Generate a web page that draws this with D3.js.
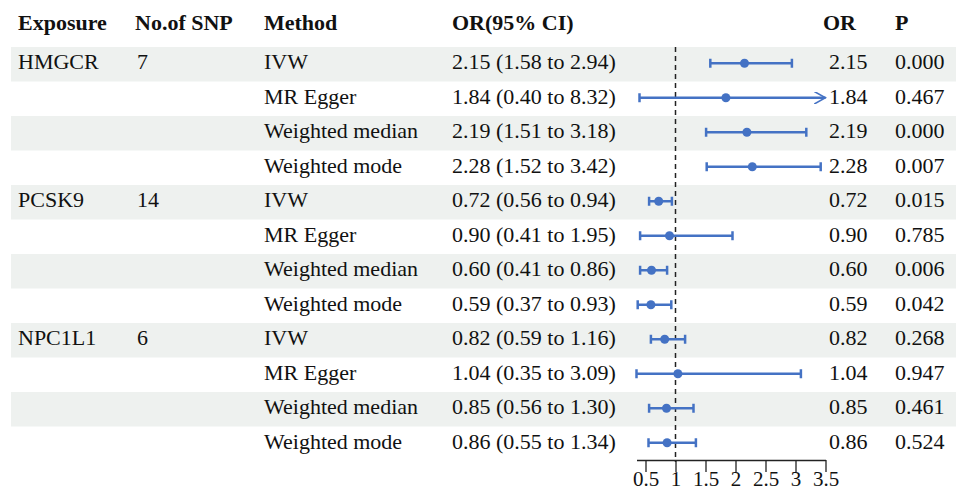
<!DOCTYPE html>
<html>
<head>
<meta charset="utf-8">
<script src="https://cdn.jsdelivr.net/npm/d3@7"></script>
<style>
  body { margin: 0; background: #fff; }
  svg text { font-family: "Liberation Serif", "Times New Roman", serif; fill: #111; }
</style>
</head>
<body>
<div id="chart"></div>
<script>
// Data
var exposures = ["HMGCR", "PCSK9", "NPC1L1"];
var snps = ["7", "14", "6"];
var methods = ["IVW", "MR Egger", "Weighted median", "Weighted mode"];
var orValues = [2.15, 1.84, 2.19, 2.28, 0.72, 0.90, 0.60, 0.59, 0.82, 1.04, 0.85, 0.86];
var lower = [1.58, 0.40, 1.51, 1.52, 0.56, 0.41, 0.41, 0.37, 0.59, 0.35, 0.56, 0.55];
var upper = [2.94, 8.32, 3.18, 3.42, 0.94, 1.95, 0.86, 0.93, 1.16, 3.09, 1.30, 1.34];
var pValues = ["0.000", "0.467", "0.000", "0.007", "0.015", "0.785", "0.006", "0.042", "0.268", "0.947", "0.461", "0.524"];
var tickValues = [0.5, 1, 1.5, 2, 2.5, 3, 3.5];
var headers = ["Exposure", "No.of SNP", "Method", "OR(95% CI)", "OR", "P"];

var width = 956, height = 493;
var rowTop = 47, rowH = 34.5;
var blue = "#4472c4";

var svg = d3.select("#chart").append("svg")
    .attr("width", width)
    .attr("height", height);

// Build rows
var rows = [];
orValues.forEach(function(v, i) {
    var g = Math.floor(i / 4);
    rows.push({
        exposure: i % 4 == 0 ? exposures[g] : "",
        snp: i % 4 == 0 ? snps[g] : "",
        method: methods[i % 4],
        or: v, lo: lower[i], hi: upper[i], p: pValues[i],
        ci: v.toFixed(2) + " (" + lower[i].toFixed(2) + " to " + upper[i].toFixed(2) + ")"
    });
});

var y = d3.scaleBand()
    .domain(d3.range(rows.length))
    .range([rowTop, rowTop + rowH * rows.length]);

var x = d3.scaleLinear()
    .domain([0.35, 3.5])
    .range([636.5, 825.5]);

// Shaded bands (IVW and weighted median rows)
svg.append("g")
    .selectAll("rect")
    .data(rows.filter(function(d, i) { return i % 2 == 0; }))
    .join("rect")
        .attr("x", 11)
        .attr("y", function(d) { return y(rows.indexOf(d)); })
        .attr("width", width - 11)
        .attr("height", y.bandwidth())
        .attr("fill", "#eef1ef");

// Header
var headerX = [18, 135, 264, 452, 823, 895];
svg.append("g")
    .selectAll("text")
    .data(headers)
    .join("text")
        .attr("x", function(d, i) { return headerX[i]; })
        .attr("y", 22)
        .attr("dy", "0.35em")
        .attr("font-size", 22)
        .attr("font-weight", "bold")
        .text(function(d) { return d; });

// Table text
var cols = [
    {key: "exposure", x: 18},
    {key: "snp", x: 137},
    {key: "method", x: 264},
    {key: "ci", x: 452},
    {key: "or", x: 829},
    {key: "p", x: 895}
];
cols.forEach(function(c) {
    svg.append("g")
        .selectAll("text")
        .data(rows)
        .join("text")
            .attr("x", c.x)
            .attr("y", function(d, i) { return y(i) + y.bandwidth() / 2 - 2.5; })
            .attr("dy", "0.35em")
            .attr("font-size", 22)
            .text(function(d) { return c.key == "or" ? d.or.toFixed(2) : d[c.key]; });
});

// Reference line at OR = 1
svg.append("line")
    .attr("x1", x(1)).attr("x2", x(1))
    .attr("y1", rowTop).attr("y2", 462)
    .attr("stroke", "#222")
    .attr("stroke-width", 1.5)
    .attr("stroke-dasharray", "5,4");

// Arrow marker for clipped CIs
svg.append("defs").append("marker")
    .attr("id", "arrow")
    .attr("viewBox", "0 0 10 10")
    .attr("refX", 9).attr("refY", 5)
    .attr("markerWidth", 5).attr("markerHeight", 5)
    .attr("markerUnits", "strokeWidth")
    .attr("orient", "auto")
    .append("path")
        .attr("d", "M0,0 L9,5 L0,10")
        .attr("fill", "none")
        .attr("stroke", blue)
        .attr("stroke-width", 1.3);

var xMax = x.domain()[1];
var marks = svg.append("g");
rows.forEach(function(d, i) {
    var cy = y(i) + y.bandwidth() / 2 - 1;
    var hiClip = Math.min(d.hi, xMax);
    var g = marks.append("g");
    g.append("line")
        .attr("x1", x(d.lo)).attr("x2", x(hiClip))
        .attr("y1", cy).attr("y2", cy)
        .attr("stroke", blue)
        .attr("stroke-width", 2.5)
        .attr("marker-end", d.hi > xMax ? "url(#arrow)" : null);
    g.append("line")
        .attr("x1", x(d.lo)).attr("x2", x(d.lo))
        .attr("y1", cy - 4.5).attr("y2", cy + 4.5)
        .attr("stroke", blue).attr("stroke-width", 2.5);
    if (d.hi <= xMax) {
        g.append("line")
            .attr("x1", x(d.hi)).attr("x2", x(d.hi))
            .attr("y1", cy - 4.5).attr("y2", cy + 4.5)
            .attr("stroke", blue).attr("stroke-width", 2.5);
    }
    g.append("circle")
        .attr("cx", x(d.or))
        .attr("cy", cy)
        .attr("r", 4.5)
        .attr("fill", blue);
});

// Axis
var axis = svg.append("g")
    .attr("transform", "translate(0,460)")
    .call(d3.axisBottom(x)
        .tickValues(tickValues)
        .tickFormat(d3.format("~g"))
        .tickSize(12)
        .tickSizeOuter(0));
axis.select(".domain").attr("stroke", "#222").attr("stroke-width", 1.3);
axis.selectAll(".tick line").attr("stroke", "#222").attr("stroke-width", 1.3);
axis.selectAll(".tick text")
    .attr("font-size", 21)
    .attr("fill", "#111")
    .attr("y", 11);
</script>
</body>
</html>
